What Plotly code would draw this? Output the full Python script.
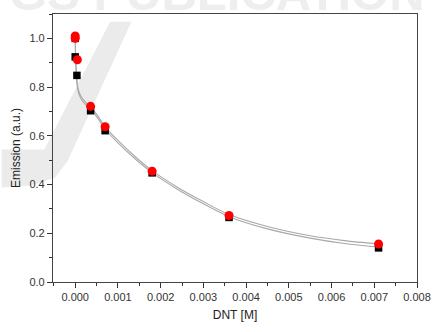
import plotly.graph_objects as go

black_x = [0, 0, 0.00004, 0.00036, 0.0007, 0.0018, 0.0036, 0.0071]
black_y = [1.0, 0.924, 0.848, 0.703, 0.621, 0.448, 0.265, 0.14]
red_x = [0, 0, 0.00005, 0.00036, 0.0007, 0.0018, 0.0036, 0.0071]
red_y = [1.0, 1.01, 0.912, 0.721, 0.637, 0.455, 0.273, 0.156]

# Fit curves
fit_x = [0, 0.00001, 0.00003, 0.00006, 0.0001, 0.00016, 0.00025, 0.00036, 0.0005,
         0.0007, 0.001, 0.0014, 0.0018, 0.0024, 0.003, 0.0036, 0.0045, 0.0055, 0.0063, 0.0071]
fit_black = [1.0, 0.92, 0.84, 0.79, 0.765, 0.745, 0.727, 0.707, 0.679, 0.627, 0.571,
             0.506, 0.449, 0.38, 0.321, 0.268, 0.218, 0.18, 0.158, 0.143]
fit_red = [1.0, 0.925, 0.85, 0.80, 0.775, 0.755, 0.737, 0.717, 0.689, 0.637, 0.581,
           0.515, 0.457, 0.388, 0.33, 0.277, 0.228, 0.19, 0.17, 0.156]

x_ticks = [0, 0.001, 0.002, 0.003, 0.004, 0.005, 0.006, 0.007, 0.008]
y_ticks = [0.0, 0.2, 0.4, 0.6, 0.8, 1.0]

fig = go.Figure()
for fy in (fit_black, fit_red):
    fig.add_trace(go.Scatter(x=fit_x, y=fy, mode="lines",
                             line=dict(color="#a8a8a8", width=1.1, shape="spline", smoothing=0.8),
                             hoverinfo="skip", showlegend=False))
fig.add_trace(go.Scatter(x=black_x, y=black_y, mode="markers",
                         marker=dict(symbol="square", size=7.5, color="black"), showlegend=False))
fig.add_trace(go.Scatter(x=red_x, y=red_y, mode="markers",
                         marker=dict(symbol="circle", size=9, color="#ff0000"), showlegend=False))

W, H = 443, 332
L, R, T, B = 53, 14, 14, 43
pw, ph = W - L - R, H - T - B

def px(x):
    return (x - L) / pw

def py(y):
    return (H - B - y) / ph

slash = [(112, 22), (134, 22), (68, 165), (55, 182), (30, 190), (0, 192), (0, 153), (44, 153)]
path = "M " + " L ".join(f"{px(a):.4f},{py(b):.4f}" for a, b in slash) + " Z"
fig.add_shape(type="path", path=path, xref="paper", yref="paper",
              fillcolor="#ebebeb", line=dict(width=0), layer="below")

fig.add_annotation(text="<b>GS PUBLICATION</b>", xref="paper", yref="paper",
                   x=px(222), y=py(22), xanchor="center", yanchor="bottom",
                   showarrow=False, font=dict(family="Liberation Sans", size=49, color="#eeeeee"))

axis_font = dict(family="Liberation Sans, Arial", size=11, color="#333")
fig.update_layout(
    width=W, height=H, margin=dict(l=L, r=R, t=T, b=B),
    paper_bgcolor="white", plot_bgcolor="rgba(0,0,0,0)",
    font=dict(family="Liberation Sans, Arial", color="#333"),
    xaxis=dict(range=[-0.00052, 0.008], tickvals=x_ticks, tickformat=".3f",
               ticks="outside", ticklen=5, tickwidth=1, tickcolor="#333",
               minor=dict(ticks="outside", ticklen=3, dtick=0.0005, tick0=0, tickcolor="#333"),
               showline=True, linecolor="#444", linewidth=1.2, mirror=True,
               showgrid=False, zeroline=False, tickfont=axis_font,
               title=dict(text="DNT [M]", font=dict(size=12, color="#222"), standoff=8)),
    yaxis=dict(range=[0, 1.1], tickvals=y_ticks, tickformat=".1f",
               ticks="outside", ticklen=5, tickwidth=1, tickcolor="#333",
               minor=dict(ticks="outside", ticklen=3, dtick=0.1, tick0=0, tickcolor="#333"),
               showline=True, linecolor="#444", linewidth=1.2, mirror=True,
               showgrid=False, zeroline=False, tickfont=axis_font,
               title=dict(text="Emission (a.u.)", font=dict(size=12, color="#222"), standoff=6)),
)

fig.write_html("out.html")
